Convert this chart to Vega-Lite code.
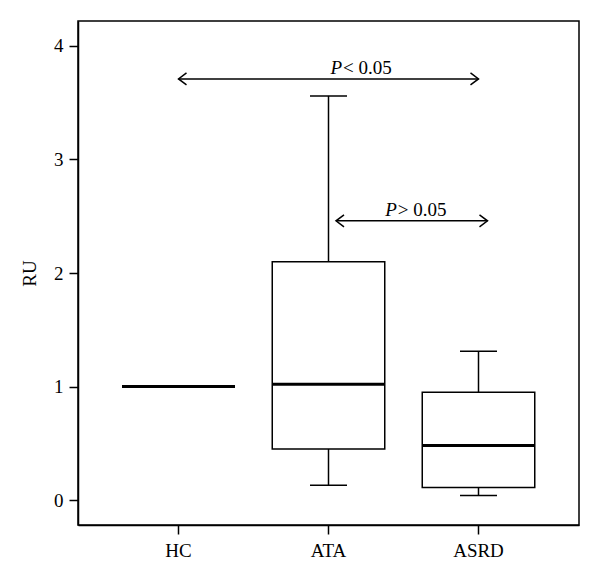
{
  "$schema": "https://vega.github.io/schema/vega-lite/v6.json",
  "width": 501,
  "height": 504,
  "autosize": "none",
  "padding": {"left": 78, "top": 21, "right": 21, "bottom": 58},
  "background": "white",
  "config": {
    "view": {"stroke": "black", "strokeWidth": 1.5},
    "font": "Liberation Serif",
    "axis": {
      "labelFont": "Liberation Serif",
      "titleFont": "Liberation Serif",
      "labelFontSize": 19,
      "titleFontSize": 19,
      "titleFontWeight": "normal",
      "labelColor": "black",
      "titleColor": "black",
      "domainColor": "black",
      "tickColor": "black",
      "tickSize": 9,
      "tickWidth": 1.5,
      "domainWidth": 1.5,
      "grid": false
    }
  },
  "datasets": {
    "boxes": [
      {"group": "HC", "lower": 1.0, "q1": 1.0, "median": 1.0, "q3": 1.0, "upper": 1.0},
      {"group": "ATA", "lower": 0.13, "q1": 0.45, "median": 1.02, "q3": 2.1, "upper": 3.56},
      {"group": "ASRD", "lower": 0.04, "q1": 0.11, "median": 0.48, "q3": 0.95, "upper": 1.31}
    ],
    "arrows": [
      {"label": "< 0.05", "y": 3.71, "from": 1.0, "to": 3.0, "textAt": 2.09},
      {"label": "> 0.05", "y": 2.46, "from": 2.05, "to": 3.06, "textAt": 2.455}
    ]
  },
  "resolve": {"scale": {"x": "independent"}},
  "layer": [
    {
      "data": {"name": "boxes"},
      "encoding": {
        "x": {
          "field": "group",
          "type": "nominal",
          "scale": {"type": "band", "domain": ["HC", "ATA", "ASRD"], "paddingInner": 0.25, "paddingOuter": 0.295},
          "axis": {"title": null, "labelAngle": 0, "labelPadding": 7}
        }
      },
      "layer": [
        {
          "transform": [{"filter": "datum.group !== 'HC'"}],
          "mark": {"type": "rule", "color": "black", "strokeWidth": 1.5},
          "encoding": {
            "y": {
              "field": "q3",
              "type": "quantitative",
              "scale": {"domain": [-0.22, 4.22], "nice": false, "zero": false},
              "axis": {"title": "RU", "values": [0, 1, 2, 3, 4], "format": "d", "labelPadding": 6, "titlePadding": 14}
            },
            "y2": {"field": "upper"}
          }
        },
        {
          "transform": [{"filter": "datum.group !== 'HC'"}],
          "mark": {"type": "rule", "color": "black", "strokeWidth": 1.5},
          "encoding": {
            "y": {"field": "lower", "type": "quantitative"},
            "y2": {"field": "q1"}
          }
        },
        {
          "transform": [{"filter": "datum.group !== 'HC'"}],
          "mark": {"type": "tick", "color": "black", "size": 37, "thickness": 1.5, "opacity": 1},
          "encoding": {"y": {"field": "upper", "type": "quantitative"}}
        },
        {
          "transform": [{"filter": "datum.group !== 'HC'"}],
          "mark": {"type": "tick", "color": "black", "size": 37, "thickness": 1.5, "opacity": 1},
          "encoding": {"y": {"field": "lower", "type": "quantitative"}}
        },
        {
          "transform": [{"filter": "datum.group !== 'HC'"}],
          "mark": {"type": "bar", "fill": "white", "stroke": "black", "strokeWidth": 1.5},
          "encoding": {
            "y": {"field": "q1", "type": "quantitative"},
            "y2": {"field": "q3"}
          }
        },
        {
          "mark": {"type": "tick", "color": "black", "size": 113, "thickness": 3, "opacity": 1},
          "encoding": {"y": {"field": "median", "type": "quantitative"}}
        }
      ]
    },
    {
      "data": {"name": "arrows"},
      "encoding": {
        "y": {"field": "y", "type": "quantitative"}
      },
      "layer": [
        {
          "mark": {"type": "rule", "color": "black", "strokeWidth": 1.5},
          "encoding": {
            "x": {"field": "from", "type": "quantitative", "scale": {"domain": [0.33, 3.67], "nice": false, "zero": false}, "axis": null},
            "x2": {"field": "to"}
          }
        },
        {
          "mark": {"type": "point", "shape": "M1,-0.75L0,0L1,0.75", "size": 256, "filled": false, "stroke": "black", "strokeWidth": 1.5, "opacity": 1},
          "encoding": {"x": {"field": "from", "type": "quantitative"}}
        },
        {
          "mark": {"type": "point", "shape": "M-1,-0.75L0,0L-1,0.75", "size": 256, "filled": false, "stroke": "black", "strokeWidth": 1.5, "opacity": 1},
          "encoding": {"x": {"field": "to", "type": "quantitative"}}
        },
        {
          "mark": {"type": "text", "text": "P", "fontStyle": "italic", "font": "Liberation Serif", "fontSize": 19, "align": "right", "baseline": "alphabetic", "dy": -5, "color": "black"},
          "encoding": {"x": {"field": "textAt", "type": "quantitative"}}
        },
        {
          "mark": {"type": "text", "font": "Liberation Serif", "fontSize": 19, "align": "left", "baseline": "alphabetic", "dy": -5, "dx": 1, "color": "black"},
          "encoding": {
            "x": {"field": "textAt", "type": "quantitative"},
            "text": {"field": "label"}
          }
        }
      ]
    }
  ]
}
